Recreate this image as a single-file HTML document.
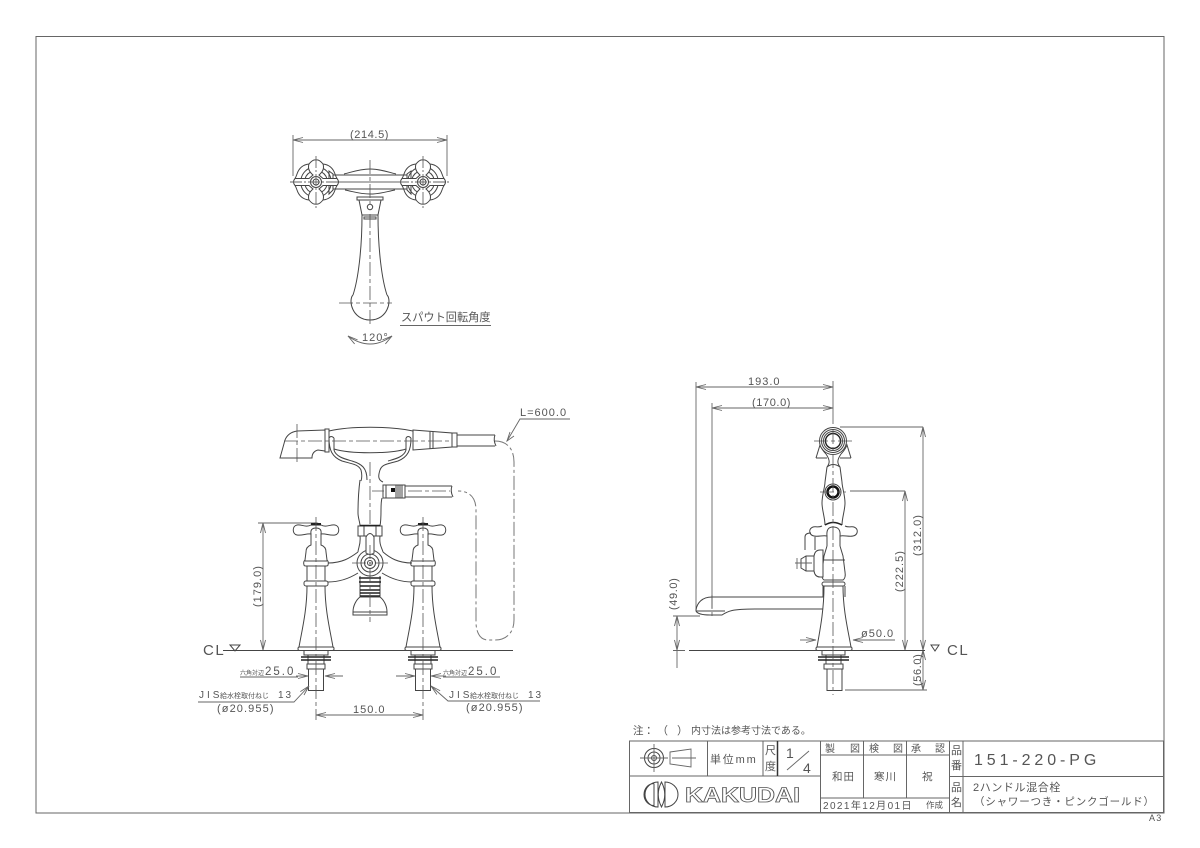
<!DOCTYPE html>
<html><head><meta charset="utf-8"><style>
html,body{margin:0;padding:0;background:#fff}
svg{display:block;filter:blur(.3px)}
text{font-family:"Liberation Sans","Noto Sans CJK JP",sans-serif;fill:#555;stroke:none}
.l{fill:none;stroke:#444;stroke-width:1}
.w{fill:#fff;stroke:#444;stroke-width:1}
.c{fill:none;stroke:#555;stroke-width:.8;stroke-dasharray:14 3 4 3}
.d{fill:none;stroke:#666;stroke-width:.9;marker-start:url(#a);marker-end:url(#a)}
.e{fill:none;stroke:#666;stroke-width:.9}
.h{fill:none;stroke:#777;stroke-width:1;stroke-dasharray:14 3 3 3}
.k{fill:none;stroke:#222;stroke-width:1.4}
.t{fill:none;stroke:#666;stroke-width:1}
.n{font-size:11px;letter-spacing:1px}
</style></head><body>
<svg width="1200" height="848" viewBox="0 0 1200 848" xmlns="http://www.w3.org/2000/svg">
<defs>
<marker id="a" viewBox="-11 -4 12 8" refX="0" refY="0" markerWidth="12" markerHeight="8" markerUnits="userSpaceOnUse" orient="auto-start-reverse" overflow="visible"><path d="M-10,-2.5L0,0L-10,2.5" fill="none" stroke="#666" stroke-width=".9"/></marker>
<g id="th">
<path class="l" d="M-15,-3A15.300,15.300 0 0 1 -3,-15M15,-3A15.300,15.300 0 0 0 3,-15M-15,3A15.300,15.300 0 0 0 -3,15M15,3A15.300,15.300 0 0 1 3,15"/>
<path class="l" d="M-11,-3A11.400,11.400 0 0 1 -3,-11M11,-3A11.400,11.400 0 0 0 3,-11M-11,3A11.400,11.400 0 0 0 -3,11M11,3A11.400,11.400 0 0 1 3,11"/>
<path class="w" d="M-21,-3.500Q-24,0-21,3.500L-7,3.500L-3,7Q-9,12-7,18Q-3,23 0,22Q3,23 7,18Q9,12 3,7L7,3.500L21,3.500Q24,0 21,-3.500L7,-3.500L3,-7Q9,-12 7,-18Q3,-23 0,-22Q-3,-23-7,-18Q-9,-12-3,-7L-7,-3.500Z"/>
<path class="l" d="M-7,-18Q-16,-17-19,-8Q-20,-5-21,-3.500M7,-18Q16,-17 19,-8Q20,-5 21,-3.500M-7,18Q-16,17-19,8Q-20,5-21,3.500M7,18Q16,17 19,8Q20,5 21,3.500"/>
<circle r="5.500" class="w"/><circle r="3" class="l"/>
<path class="e" d="M-26,0H26M0,-26V26" stroke-dasharray="12 2 2 2"/>
</g>
<g id="f">
<path class="l" d="M-5,525C-10,528-15,524-19,525C-24,526-24,534-19,535C-14,536-9,533-5,534V545C-8,546-10,548-10,552L-11,560Q-13,562-12,565Q-12,566-10,566H10Q12,566 12,565Q13,562 11,560L10,552C10,548 8,546 5,545V534C9,533 14,536 19,535C24,534 24,526 19,525C15,524 10,528 5,525"/>
<path class="l" d="M-5,525Q0,521 5,525M-5,534Q-6,528 0,528Q6,528 5,534M-11,561H11M-9,566V581M9,566V581"/>
<rect x="-5" y="523" width="10" height="2.500" fill="#222"/>
<rect x="-12" y="581" width="24" height="5" rx="2" class="w"/>
<path class="l" d="M-9,586C-9,610-14,630-17,647M9,586C9,610 14,630 17,647"/>
<rect x="-18" y="647" width="36" height="3.500" rx="1.500" class="w"/>
<path class="l" d="M-12,650.500V655H12V650.500M-8,655V664M8,655V664"/>
<path class="k" d="M-15,657H15M-15,660H15"/>
<rect x="-9" y="664" width="18" height="5" class="w"/>
<rect x="-7.500" y="669" width="15" height="21.500" class="w"/>
<path class="c" d="M0,517V720"/>
</g>
</defs>
<rect width="1200" height="848" fill="#fff"/>
<rect x="36" y="36.500" width="1128" height="776.500" class="t"/>

<!-- top view -->
<path class="e" d="M293,135V176M447,135V176"/>
<path class="d" d="M293,140H447"/>
<text x="350" y="138" class="n" style="letter-spacing:.6px">(214.5)</text>
<path class="l" d="M333,175H407V189H333Z"/>
<path class="l" d="M344,174C352,172 360,169 370,169C380,169 388,172 396,174M345,190C355,192 360,194 370,194C380,194 385,192 395,190"/>
<path class="l" d="M329,171L333,174V190L329,194ZM411,171L407,174V190L411,194Z"/>
<path class="w" d="M357,197H383V200H357Z"/>
<path class="l" d="M359,200L362,215H378L381,200M362,215C362,250 358,280 353,295M378,215C378,250 382,280 387,295M364,217H376V219H364Z"/>
<path class="l" d="M353,295C348,300 352,320 370,320C388,320 392,300 387,295"/>
<circle cx="370" cy="207" r="2.700" class="l"/>
<path class="c" d="M370,160V204M370,214V324M339,303H392"/>
<path class="e" d="M338,182H402"/>
<use href="#th" x="316" y="182"/><use href="#th" x="423" y="182"/>
<text x="401" y="321" font-size="11.200">スパウト回転角度</text>
<path class="e" d="M400,325.500H491"/>
<path class="d" d="M348,336Q370,352 392,336"/>
<text x="362" y="341" class="n">120°</text>

<!-- front view -->
<path class="e" d="M258,523H316"/>
<path class="d" d="M263,523V650"/>
<text transform="translate(261,607) rotate(-90)" class="n">(179.0)</text>
<path class="l" d="M223,650.500H513"/>
<text x="203" y="655" font-size="15" letter-spacing="1.500">CL</text>
<path class="l" d="M230,645H240L235,651Z"/>

<!-- hose -->
<path class="h" d="M495,441C508,441 514,450 514,462V620C514,633 506,640 495,640H488C480,640 476,632 476,622V510C476,498 470,491 458,491"/>
<!-- shower column -->
<path class="l" d="M360,480C358,495 358,505 358,513C358,518 360,522 360,526M382,498C380,505 382,515 380,526"/>
<path class="l" d="M329,438C329,450 332,457 342,461C352,464 358,464 361,470C362,474 362,478 361,481M334,438V450C336,457 345,459 352,461C362,464 367,468 367,480M411,438C411,450 408,457 398,461C388,464 382,464 380,470C378,476 378,480 383,482M406,438V450C404,457 395,459 388,461"/>
<path class="l" d="M329,438Q331,435 334,438M406,438Q408,435 411,438"/>
<path class="l" d="M329,431C350,426 390,426 413,431M334,449C350,454 390,454 406,449"/>
<path class="l" d="M280,458L285,440C287,435 291,432 297,431L325,430V451L318,450C314,451 312,454 312,458Z"/>
<rect x="325" y="429" width="4" height="23" class="w"/>
<path class="l" d="M413,430L452,433V447L413,450ZM430,431.500V448.500M433,431.500V448.500M452,433H457V447H452M457,435H495M457,446H495M495,435Q493,440 496,446"/>
<path class="c" d="M284,441H450M297,424V462M370,462V535"/>
<path class="l" d="M383,485H405V498H383ZM405,486H452M405,497H452M452,486Q450,491 453,497"/>
<path class="l" stroke-width=".7" d="M396,485V498M398,485V498M400,485V498M402,485V498M386,485V498"/>
<rect x="391" y="488" width="4" height="4" fill="#111"/>
<path class="c" d="M372,491H384M408,491H450"/>
<!-- L label -->
<text x="520" y="416" class="n">L=600.0</text>
<path class="e" d="M570,419H520L507,441"/>
<path d="M510,432L507,441L514,436" class="e"/>
<!-- centre mixer -->
<path class="w" d="M358,526H382V536H358Z"/>
<path class="l" d="M364,526V536M376,526V536"/>
<path class="k" d="M360,525.500H380"/>
<path class="l" d="M328,563C342,563 350,558 358,552M328,582C340,582 350,578 358,573M412,563C398,563 390,558 383,552M412,582C400,582 390,578 382,573M360,536C361,545 358,548 358,552M380,536C379,545 382,548 383,552"/>
<circle cx="370" cy="563" r="13" class="w"/><circle cx="370" cy="563" r="9" class="l"/><circle cx="370" cy="563" r="5.500" class="l"/><circle cx="370" cy="563" r="2.500" class="l"/>
<path class="w" d="M366,553V537Q370,530 374,537V553Q370,556 366,553Z"/>
<path class="l" d="M360,576V597M380,576V597"/>
<path class="k" d="M359,578H381M359,582H381M360,586H380M360,590H380M360,593H380M360,596H380"/>
<path class="w" d="M360,597C356,600 353,606 353,612V615H387V612C387,606 384,600 380,597Z"/>
<path class="l" d="M353,612H387"/>
<path class="c" d="M370,545V622M352,563H388"/>
<use href="#f" x="316"/><use href="#f" x="423"/>
<!-- front labels -->
<text x="240" y="675" font-size="6">六角対辺</text><text x="265" y="675" font-size="11.500" letter-spacing="2">25.0</text>
<path class="e" d="M240,677H298"/>
<path class="e" marker-end="url(#a)" d="M296,676H308"/><path class="e" marker-end="url(#a)" d="M343,676H325"/><path class="e" marker-end="url(#a)" d="M396,676H415"/><path class="e" marker-end="url(#a)" d="M446,676H431"/>
<text x="443" y="675" font-size="6">六角対辺</text><text x="468" y="675" font-size="11.500" letter-spacing="2">25.0</text>
<path class="e" d="M443,677H500"/>
<text x="199" y="698" font-size="10" letter-spacing="3">JIS</text><text x="220" y="698" font-size="7">給水栓取付ねじ</text><text x="278" y="698" font-size="10" letter-spacing="2">13</text>
<path class="e" marker-end="url(#a)" d="M198,702H294L309,686"/>
<text x="449" y="698" font-size="10" letter-spacing="3">JIS</text><text x="470" y="698" font-size="7">給水栓取付ねじ</text><text x="528" y="698" font-size="10" letter-spacing="2">13</text>
<path class="e" marker-end="url(#a)" d="M540,701H448L431,686"/>
<text x="217" y="712" class="n" style="letter-spacing:1.100px">(ø20.955)</text>
<text x="466" y="711" class="n" style="letter-spacing:1.100px">(ø20.955)</text>
<path class="d" d="M316,715H423"/>
<text x="353" y="713" class="n">150.0</text>

<!-- side view -->
<path class="e" d="M696,382V610M712,403V608M833,381V424M840,427H923M850,491H905M845,690H927M673,616H700M673,650.500H685"/>
<path class="d" d="M696,387H833"/><path class="d" d="M712,408H833"/>
<text x="748" y="385" class="n">193.0</text>
<text x="752" y="406" class="n" style="letter-spacing:.6px">(170.0)</text>
<path class="d" d="M923,427V650"/><path class="d" d="M905,491V650"/><path class="d" d="M923,650V690"/>
<path class="d" d="M677,616V650"/><path class="e" d="M677,650V668"/>
<text transform="translate(921,556) rotate(-90)" class="n">(312.0)</text>
<text transform="translate(903,592) rotate(-90)" class="n">(222.5)</text>
<text transform="translate(921,686) rotate(-90)" class="n" style="letter-spacing:.6px">(56.0)</text>
<text transform="translate(677,610) rotate(-90)" class="n" style="letter-spacing:.6px">(49.0)</text>
<path class="l" d="M689,650.500H925"/>
<text x="947" y="655" font-size="15" letter-spacing="1.500">CL</text>
<path class="l" d="M931,645H939L935,651Z"/>
<path class="l" d="M816,458L820,445C822,450 824,452 826,454M851,458L847,445C845,450 843,452 841,454M816,458H827M840,458H851"/>
<circle cx="833" cy="441" r="13.500" class="w"/><circle cx="833" cy="441" r="11.500" class="l"/><circle cx="833" cy="441" r="9.500" class="l"/><circle cx="833" cy="441" r="7.500" class="k"/>
<path class="l" d="M826,454C830,460 830,463 827,467L825,482M841,454C837,460 837,463 840,467L842,482M827,467Q833,462 840,467M825,482C825,487 822,495 822,503C822,510 825,518 825,525M842,482C842,487 845,495 845,503C845,510 842,518 842,525"/>
<circle cx="833" cy="492" r="5.500" fill="#fff" stroke="#111" stroke-width="2.500"/><circle cx="833" cy="492" r="8" class="l"/>
<path class="k" d="M825,525Q833,520 842,525"/>
<path class="l" d="M805,550V537Q805,533 811,533M815,550V537"/>
<path class="l" d="M822,526C818,528 815,526 813,527C808,529 809,535 814,536C818,537 823,535 827,536V546M845,526C849,528 852,526 854,527C859,529 858,535 853,536C849,537 844,535 840,536V546"/>
<path class="l" d="M827,536Q826,527 833,527Q841,527 840,536"/>
<path class="l" d="M827,546L824,556L822,572Q821,578 824,580H843Q846,578 845,572L843,556L840,546M822,560H845"/>
<path class="w" d="M820,550Q815,550 814,556H806L801,559V568L806,571H814Q815,577 820,577H823V550Z"/>
<path class="l" d="M814,556V571M806,556V571"/>
<path class="e" d="M795,563H812M797,558V569"/>
<rect x="822" y="582" width="23" height="4" rx="2" class="w"/>
<path class="l" d="M823,586V597M845,586V597M824,586C824,610 820,630 817,647M843,586C843,610 848,630 851,647"/>
<rect x="816" y="647" width="36" height="3.500" rx="1.500" class="w"/>
<path class="l" d="M822,650.500V655H845V650.500M826,655V664M841,655V664"/>
<path class="k" d="M818,657H849M818,660H849"/>
<rect x="824" y="664" width="19" height="5" class="w"/>
<rect x="827" y="669" width="15" height="21.500" class="w"/>
<path class="l" d="M696,610C697,603 702,597 712,597H824M696,610V611Q698,615 710,615H722C728,611 732,609 755,609H823M696,611H725"/>
<path class="c" d="M712,595V618M833,430V695M814,441H852M820,492H846"/>
<path class="e" marker-end="url(#a)" d="M800,640H816"/><path class="e" marker-end="url(#a)" d="M895,640H853"/>
<text x="861" y="637" class="n">ø50.0</text>

<!-- note -->
<text x="633" y="734" font-size="10.500">注：</text><text x="657" y="734" font-size="11">（</text><text x="677" y="734" font-size="11">）</text><text x="691" y="734" font-size="10">内寸法は参考寸法である。</text>

<!-- title block -->
<rect x="629.500" y="741" width="534" height="71.500" class="t"/>
<path class="t" d="M707.500,741V776M763,741V776M820.500,741V812M863.500,741V798M906.500,741V798M949.500,741V812M963,741V812M629.500,776H820.500M820.500,755H949.500M820.500,798H949.500M949.500,776.500H1163"/>
<path d="M777.500,741V776" stroke="#333" stroke-width="1.500"/>
<circle cx="654" cy="758" r="9.500" class="l"/><circle cx="654" cy="758" r="6" class="l"/><circle cx="654" cy="758" r="2.500" class="l"/>
<path class="e" d="M640,758H668M654,744V772M672,758H696M670,752L691,749V767L670,764Z"/>
<text x="710" y="763" font-size="11" letter-spacing="1.800">単位mm</text>
<text x="765" y="754" font-size="11">尺</text><text x="765" y="770" font-size="11">度</text>
<text x="786" y="758" font-size="14">1</text><text x="803" y="773" font-size="14">4</text>
<path class="e" d="M787,770L809,751"/>
<text x="825" y="752" font-size="10">製</text><text x="850" y="752" font-size="10">図</text>
<text x="869" y="752" font-size="10">検</text><text x="893" y="752" font-size="10">図</text>
<text x="911" y="752" font-size="10">承</text><text x="935" y="752" font-size="10">認</text>
<text x="832" y="780" font-size="10.500" letter-spacing="1">和田</text>
<text x="874" y="780" font-size="10.500" letter-spacing="1">寒川</text>
<text x="922" y="780" font-size="10.500">祝</text>
<text x="823" y="809" font-size="10" letter-spacing="1.400">2021年12月01日</text>
<text x="926" y="808" font-size="8.500">作成</text>
<text x="951" y="754" font-size="11">品</text><text x="951" y="769" font-size="11">番</text>
<text x="951" y="791" font-size="11">品</text><text x="951" y="806" font-size="11">名</text>
<text x="974" y="765" font-size="16" letter-spacing="3.900">151-220-PG</text>
<text x="973" y="791" font-size="11" letter-spacing=".6">2ハンドル混合栓</text>
<text x="974" y="805" font-size="10.500" letter-spacing=".8">（シャワーつき・ピンクゴールド）</text>
<text x="1149" y="821" font-size="9" letter-spacing="1.200">A3</text>
<!-- logo -->
<path class="l" d="M658,782A13,12.500 0 0 0 658,807ZM654,783.500A10,11 0 0 0 654,805.500V783.500"/>
<path class="l" d="M661.500,782Q655,794.500 661.500,807Q668,794.500 661.500,782ZM665,782A13,12.500 0 0 1 665,807Z"/>
<text x="685" y="802" font-size="21" font-weight="bold" textLength="115" lengthAdjust="spacingAndGlyphs" style="fill:#fff;stroke:#555;stroke-width:.8">KAKUDAI</text>
</svg>
</body></html>
